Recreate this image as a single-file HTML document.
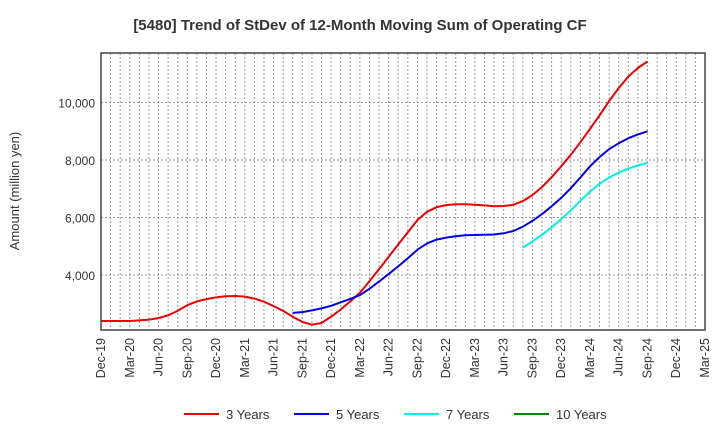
<!DOCTYPE html>
<html><head><meta charset="utf-8"><style>
body{margin:0;background:#fff;font-family:"Liberation Sans",sans-serif}
</style></head><body>
<svg id="chart" width="720" height="440" xmlns="http://www.w3.org/2000/svg" font-family="Liberation Sans, sans-serif">
<text x="360" y="30" text-anchor="middle" font-size="15" font-weight="bold" fill="#333">[5480]  Trend of StDev of 12-Month Moving Sum of Operating CF</text>
<text transform="translate(19,191) rotate(-90)" text-anchor="middle" font-size="13" fill="#333">Amount (million yen)</text>
<g id="grid"></g><g id="series"></g><g id="axes"></g>
<g id="legend"></g>
</svg>
<script>
const xLabels=["Dec-19","Mar-20","Jun-20","Sep-20","Dec-20","Mar-21","Jun-21","Sep-21","Dec-21","Mar-22","Jun-22","Sep-22","Dec-22","Mar-23","Jun-23","Sep-23","Dec-23","Mar-24","Jun-24","Sep-24","Dec-24","Mar-25"];
const yTicks=[4000,6000,8000,10000];
const yTickLabels=["4,000","6,000","8,000","10,000"];
const seriesNames=["3 Years","5 Years","7 Years","10 Years"];
const seriesColors=["#ee0000","#0000ee","#00eeee","#008800"];
const seriesStart=[0,20,44,0];
const s3=[2400,2400,2400,2400,2420,2450,2500,2600,2750,2950,3080,3160,3220,3260,3270,3250,3180,3070,2920,2750,2550,2370,2270,2330,2550,2800,3080,3380,3780,4200,4630,5060,5480,5910,6200,6360,6430,6460,6460,6440,6420,6390,6400,6440,6570,6780,7060,7400,7780,8180,8620,9080,9550,10050,10500,10900,11200,11430];
const s5=[2680,2710,2770,2840,2930,3050,3170,3300,3520,3770,4030,4300,4580,4880,5100,5230,5300,5350,5380,5390,5400,5410,5450,5530,5680,5880,6120,6390,6680,7020,7390,7780,8100,8380,8580,8760,8890,9000];
const s7=[4950,5170,5400,5660,5940,6250,6580,6900,7170,7390,7560,7700,7810,7900];
const s10=[];
const L=101,R=705,T=53,B=330,months=63;
const X=m=>L+(R-L)*m/months;
const Y=v=>275-(v-4000)*57.5/2000;
const ns="http://www.w3.org/2000/svg";
function mk(p,t,a){const e=document.createElementNS(ns,t);for(const k in a)e.setAttribute(k,a[k]);p.appendChild(e);return e;}
const grid=document.getElementById('grid'),axes=document.getElementById('axes'),ser=document.getElementById('series'),leg=document.getElementById('legend');
for(let m=1;m<months;m++){const l=mk(grid,'line',{x1:X(m),x2:X(m),y1:T,y2:B,stroke:'#999','stroke-dasharray':'2,2','stroke-width':1});

}
yTicks.forEach((v,i)=>{const l=mk(grid,'line',{x1:L,x2:R,y1:Y(v),y2:Y(v),stroke:'#999','stroke-dasharray':'2,2'});


const t=mk(axes,'text',{x:L-6,y:Y(v)+5,'text-anchor':'end','font-size':12,fill:'#333'});t.textContent=yTickLabels[i];

});
const f=mk(axes,'rect',{x:L,y:T,width:R-L,height:B-T,fill:'none',stroke:'#444','stroke-width':1.5});


xLabels.forEach((s,i)=>{const x=X(i*3);const t=mk(axes,'text',{transform:`translate(${x+4},${B+8}) rotate(-90)`,'text-anchor':'end','font-size':12.5,fill:'#333'});t.textContent=s;

});
[s3,s5,s7,s10].forEach((d,i)=>{if(!d.length)return;const pts=d.map((v,j)=>X(seriesStart[i]+j).toFixed(1)+','+Y(v).toFixed(1)).join(' ');
const p=mk(ser,'polyline',{points:pts,fill:'none',stroke:seriesColors[i],'stroke-width':2,'stroke-linejoin':'round'});

});
const lx=[184,294,404,514];
seriesNames.forEach((n,i)=>{const g=mk(leg,'g',{});


mk(g,'line',{x1:lx[i],x2:lx[i]+35,y1:414,y2:414,stroke:seriesColors[i],'stroke-width':2});
const t=mk(g,'text',{x:lx[i]+42,y:419,'font-size':13,fill:'#333'});t.textContent=n;});
</script>
</body></html>
